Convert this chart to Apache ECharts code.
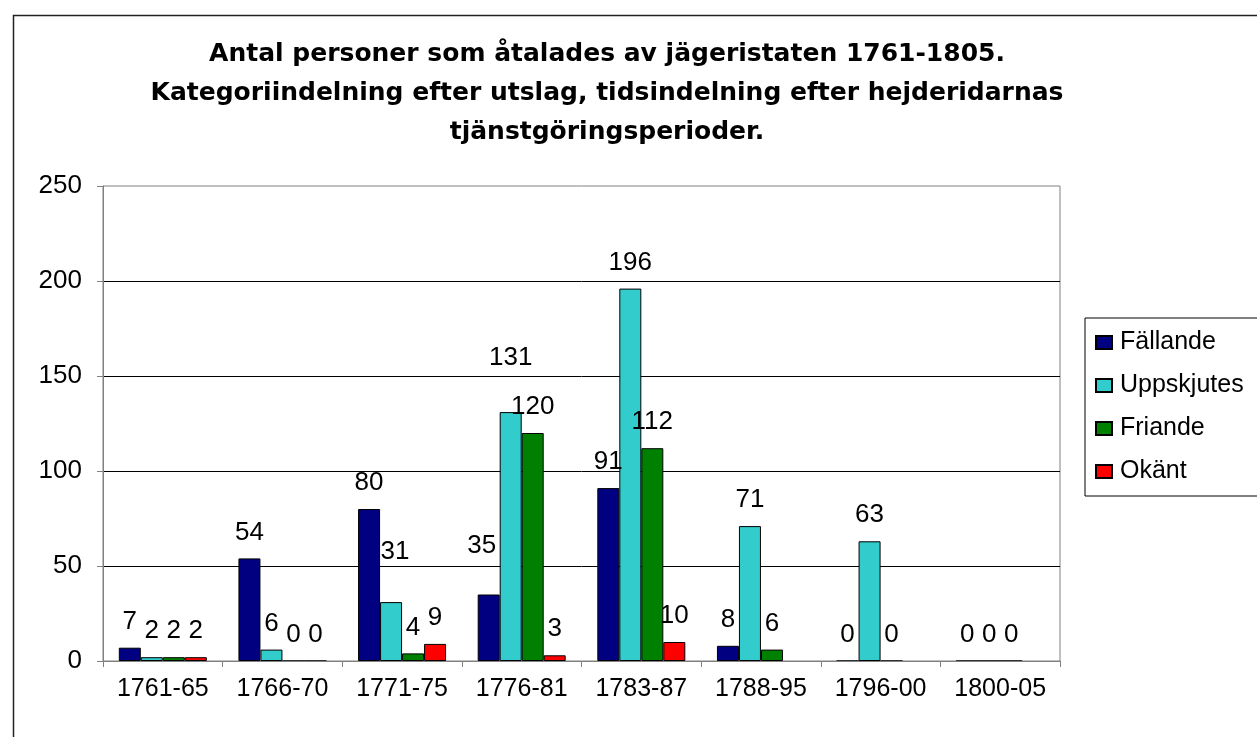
<!DOCTYPE html>
<html>
<head>
<meta charset="utf-8">
<script src="https://cdn.jsdelivr.net/npm/echarts@6/dist/echarts.min.js"></script>
<style>
  html, body { margin: 0; padding: 0; background: #fff; }
  #chart { width: 1257px; height: 737px; }
</style>
</head>
<body>
<div id="chart"></div>
<script>
// perioder (hejderidarnas tjänstgöring)
const periods = ['1761-65', '1766-70', '1771-75', '1776-81', '1783-87', '1788-95', '1796-00', '1800-05']

// antal per utslag, null = ingen uppgift
const fallande = [7, 54, 80, 35, 91, 8, 0, 0]
const uppskjutes = [2, 6, 31, 131, 196, 71, 63, 0]
const friande = [2, 0, 4, 120, 112, 6, 0, 0]
const okant = [2, 0, 9, 3, 10, null, null, null]

const yTicks = { min: 0, max: 250, step: 50 }

const titleText = 'Antal personer som åtalades av jägeristaten 1761-1805.\n' +
  'Kategoriindelning efter utslag, tidsindelning efter hejderidarnas\n' +
  'tjänstgöringsperioder.'

// a few labels sit higher in the original (series -> index -> [dx, dy])
const labelNudge = {
  'Fällande': { 3: [-7, -23] },
  'Uppskjutes': { 2: [4, -24], 3: [0, -28] }
}

const font = 'Liberation Sans, Arial, sans-serif'

function barSeries(name, data, color) {
  const nudge = labelNudge[name] || {}
  return {
    name: name,
    type: 'bar',
    data: data.map((v, i) => {
      if (nudge[i]) return { value: v, label: { offset: nudge[i] } }
      return v
    }),
    barWidth: 22,
    barGap: '0%',
    itemStyle: { color: color, borderColor: '#000', borderWidth: 1 },
    label: {
      show: true,
      position: 'top',
      distance: 13,
      color: '#000',
      fontFamily: font,
      fontSize: 26
    }
  }
}

const chart = echarts.init(document.getElementById('chart'))
chart.setOption({
  animation: false,
  graphic: [
    {
      type: 'rect',
      left: 11,
      top: 13,
      shape: { width: 1400, height: 900 },
      style: { fill: 'none', stroke: '#222', lineWidth: 1.5 },
      silent: true
    },
    {
      type: 'text',
      x: 607,
      y: 35,
      style: {
        text: titleText,
        textAlign: 'center',
        fontFamily: 'DejaVu Sans, Verdana, sans-serif',
        fontWeight: 'bold',
        fontSize: 25,
        lineHeight: 39,
        fill: '#000'
      }
    }
  ],
  grid: {
    left: 103,
    right: 197,
    top: 186,
    bottom: 76,
    show: true,
    borderColor: '#808080',
    borderWidth: 1
  },
  legend: {
    orient: 'vertical',
    left: 1085,
    top: 318,
    padding: [12, 40, 12, 10],
    borderColor: '#000',
    borderWidth: 1,
    itemWidth: 16,
    itemHeight: 13,
    itemGap: 18,
    icon: 'rect',
    textStyle: { fontFamily: font, fontSize: 25, lineHeight: 24, color: '#000', padding: [0, 0, 0, 3] },
    data: ['Fällande', 'Uppskjutes', 'Friande', 'Okänt']
  },
  xAxis: {
    type: 'category',
    data: periods,
    z: 5,
    axisLine: { lineStyle: { color: '#808080' } },
    axisTick: { show: true, length: 6, lineStyle: { color: '#808080' } },
    axisLabel: { color: '#000', fontFamily: font, fontSize: 25, margin: 16 }
  },
  yAxis: {
    type: 'value',
    min: yTicks.min,
    max: yTicks.max,
    interval: yTicks.step,
    axisLine: { show: true, lineStyle: { color: '#808080' } },
    axisTick: { show: true, length: 6, lineStyle: { color: '#808080' } },
    axisLabel: { color: '#000', fontFamily: font, fontSize: 26, margin: 21 },
    splitLine: { show: true, showMaxLine: false, lineStyle: { color: '#000', width: 1 } }
  },
  series: [
    barSeries('Fällande', fallande, '#000080'),
    barSeries('Uppskjutes', uppskjutes, '#33CCCC'),
    barSeries('Friande', friande, '#008000'),
    barSeries('Okänt', okant, '#FF0000')
  ]
})
</script>
</body>
</html>
